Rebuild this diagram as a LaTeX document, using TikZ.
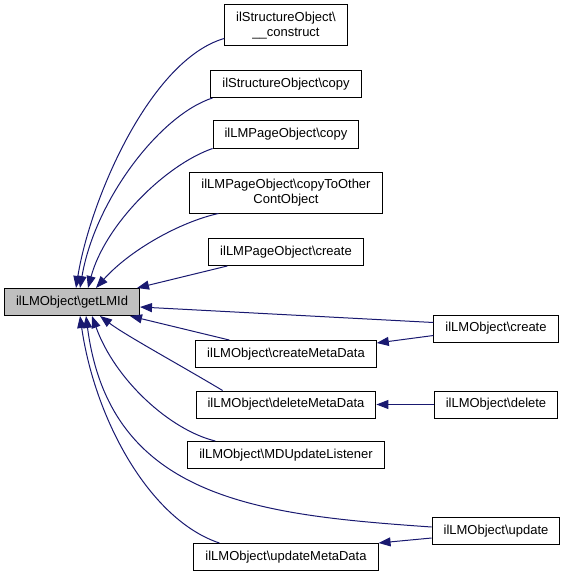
\documentclass[tikz,border=0pt]{standalone}
\usepackage{fontspec}
\setmainfont{Liberation Sans}
\usetikzlibrary{arrows.meta}
\definecolor{edgeblue}{HTML}{191970}
\definecolor{rootgray}{HTML}{BFBFBF}

\begin{document}
\begin{tikzpicture}[x=1pt,y=-1pt,func/.style={draw,line width=1pt,fill=white,font=\fontsize{13}{14.5}\selectfont,inner xsep=11.5pt,inner ysep=0pt,minimum height=27pt,align=center},root/.style={func,fill=rootgray},twoline/.style={minimum height=41pt},call/.style={edgeblue,line width=1pt,-{Triangle[length=12pt,width=9pt]}}]
\useasboundingbox (0,0) rectangle (565,575);
\node[root] (lmid) at (72,302) {ilLMObject\textbackslash getLMId};
\node[func,twoline] (soc) at (286,25.5) {ilStructureObject\textbackslash\\\_\_construct};
\node[func] (socopy) at (286,84) {ilStructureObject\textbackslash copy};
\node[func] (lmpcopy) at (286,134.5) {ilLMPageObject\textbackslash copy};
\node[func,twoline] (lmpother) at (286,192.5) {ilLMPageObject\textbackslash copyToOther\\ContObject};
\node[func] (lmpcreate) at (286,252) {ilLMPageObject\textbackslash create};
\node[func] (createmd) at (286,354) {ilLMObject\textbackslash createMetaData};
\node[func] (deletemd) at (286,404.5) {ilLMObject\textbackslash deleteMetaData};
\node[func] (mdul) at (286,455) {ilLMObject\textbackslash MDUpdateListener};
\node[func] (updatemd) at (286,557) {ilLMObject\textbackslash updateMetaData};
\node[func] (create) at (496,328.5) {ilLMObject\textbackslash create};
\node[func] (delete) at (496,404.5) {ilLMObject\textbackslash delete};
\node[func] (update) at (496,531) {ilLMObject\textbackslash update};
% callers above
\draw[call] ([yshift=8pt]soc.south west) .. controls (150,60) and (90,200) .. ([xshift=72pt]lmid.north west);
\draw[call] ([xshift=2pt]socopy.south west) .. controls (160,115) and (95,200) .. ([xshift=76pt]lmid.north west);
\draw[call] (lmpcopy.south west) .. controls (165,165) and (105,225) .. ([xshift=84pt]lmid.north west);
\draw[call] ([xshift=29pt]lmpother.south west) .. controls (180,222) and (130,250) .. ([xshift=92pt]lmid.north west);
\draw[call] ([xshift=19pt]lmpcreate.south west) -- ([xshift=133pt]lmid.north west);
% callers below
\draw[call] ([yshift=6pt]create.west) -- ([yshift=-5pt]lmid.east);
\draw[call] ([xshift=34pt]createmd.north west) -- ([xshift=126pt]lmid.south west);
\draw[call] ([xshift=27pt]deletemd.north west) .. controls (180,365) and (125,335) .. ([xshift=96pt]lmid.south west);
\draw[call] ([xshift=28pt]mdul.north west) .. controls (170,430) and (115,380) .. ([xshift=88pt]lmid.south west);
\draw[call] ([yshift=4pt]update.west) .. controls (260,515) and (110,500) .. ([xshift=82pt]lmid.south west);
\draw[call] ([xshift=26pt]updatemd.north west) .. controls (150,520) and (95,420) .. ([xshift=76pt]lmid.south west);
% second level
\draw[call] ([yshift=-7pt]create.west) -- ([yshift=-3pt]createmd.north east);
\draw[call] (delete.west) -- (deletemd.east);
\draw[call] ([yshift=-7pt]update.west) -- (updatemd.north east);
\end{tikzpicture}
\end{document}
